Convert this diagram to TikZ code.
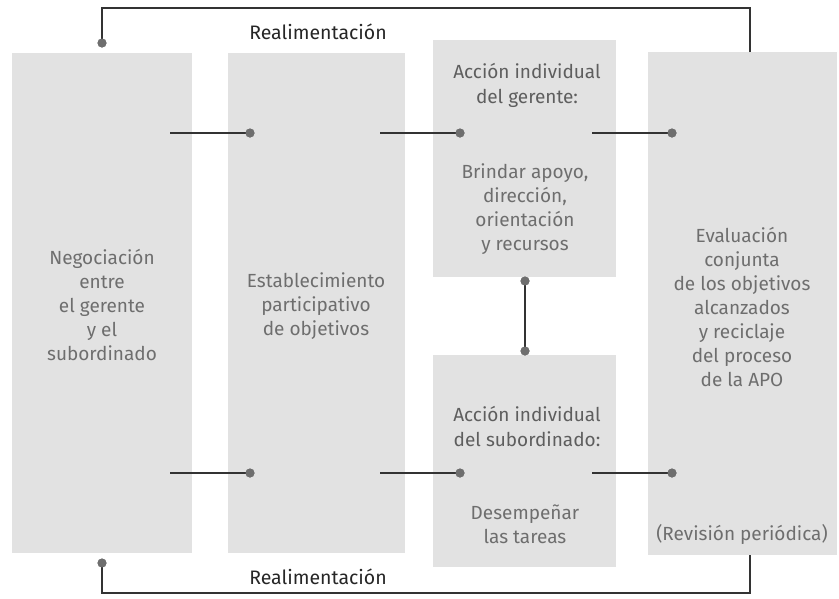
\documentclass[tikz,border=0pt]{standalone}
\usepackage{fontspec}
\setmainfont{Fira Sans}
\begin{document}
\begin{tikzpicture}[x=1pt,y=-1pt,
  panel/.style={fill=panelgray, draw=none, inner sep=0pt, outer sep=0pt},
  body/.style={text=textgray, align=center, font=\fontsize{19}{24}\selectfont, inner sep=0pt},
  head/.style={text=headgray, align=center, font=\fontsize{19}{25}\selectfont, inner sep=0pt},
  label/.style={text=labelgray, font=\fontsize{19.5}{20}\selectfont, inner sep=0pt},
  link/.style={draw=linegray, line width=1.6pt},
  knob/.style={circle, fill=dotgray, inner sep=0pt, minimum size=9pt},
]
\definecolor{panelgray}{HTML}{E2E2E2}
\definecolor{textgray}{HTML}{6E6E6E}
\definecolor{headgray}{HTML}{5E5E5E}
\definecolor{labelgray}{HTML}{262626}
\definecolor{linegray}{HTML}{333333}
\definecolor{dotgray}{HTML}{6E6E6E}

\useasboundingbox (0,0) rectangle (839,598);

% panels
\path[panel] (12,53) rectangle (192,553);
\path[panel] (228,53) rectangle (405,553);
\path[panel] (433,40) rectangle (616,277);
\path[panel] (433,355) rectangle (616,567);
\path[panel] (648,52) rectangle (837,555);

% texts
\node[body] (t1) at (102,305) {Negociación\\entre\\el gerente\\y el\\subordinado};
\node[body] (t2) at (316,306) {Establecimiento\\participativo\\de objetivos};
\node[head] (t3a) at (527,85) {Acción individual\\del gerente:};
\node[body] (t3b) at (525,209) {Brindar apoyo,\\dirección,\\orientación\\y recursos};
\node[head] (t4a) at (527,426) {Acción individual\\del subordinado:};
\node[body] (t4b) at (525,524) {Desempeñar\\las tareas};
\node[body] (t5a) at (742,307) {Evaluación\\conjunta\\de los objetivos\\alcanzados\\y reciclaje\\del proceso\\de la APO};
\node[body] (t5b) at (742,534) {(Revisión periódica)};
\node[label] (fbtop) at (318,32) {Realimentación};
\node[label] (fbbot) at (318,577) {Realimentación};

% connector end points
\coordinate (r1a) at (170,133);
\node[knob] (r1b) at (250,133) {};
\coordinate (r2a) at (380,133);
\node[knob] (r2b) at (460,133) {};
\coordinate (r3a) at (592,133);
\node[knob] (r3b) at (672,133) {};
\coordinate (s1a) at (170,473);
\node[knob] (s1b) at (250,473) {};
\coordinate (s2a) at (380,473);
\node[knob] (s2b) at (460,473) {};
\coordinate (s3a) at (592,473);
\node[knob] (s3b) at (672,473) {};
\node[knob] (va) at (525,281) {};
\node[knob] (vb) at (525,351) {};
\coordinate (ftop) at (750,52);
\node[knob] (fl1) at (102,43) {};
\coordinate (fbot) at (750,555);
\node[knob] (fl2) at (102,563) {};

% connectors
\draw[link] (r1a) -- (r1b.center);
\draw[link] (r2a) -- (r2b.center);
\draw[link] (r3a) -- (r3b.center);
\draw[link] (s1a) -- (s1b.center);
\draw[link] (s2a) -- (s2b.center);
\draw[link] (s3a) -- (s3b.center);
\draw[link] (va.center) -- (vb.center);
\draw[link] (ftop) |- (102,8) -- (fl1.center);
\draw[link] (fbot) |- (102,593) -- (fl2.center);

% dots on top of the lines
\foreach \k in {r1b,r2b,r3b,s1b,s2b,s3b,va,vb,fl1,fl2}
  \node[knob] at (\k) {};
\end{tikzpicture}
\end{document}
